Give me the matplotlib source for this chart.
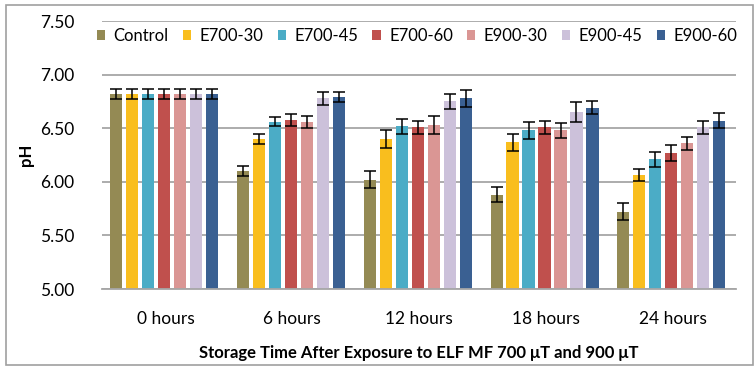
import numpy as np
import matplotlib.pyplot as plt
from matplotlib.patches import Rectangle

plt.rcParams['font.family'] = ['Lato', 'DejaVu Sans']

# data
times = ["0 hours", "6 hours", "12 hours", "18 hours", "24 hours"]
series = ["Control", "E700-30", "E700-45", "E700-60", "E900-30", "E900-45", "E900-60"]
colors = ["#948A54", "#F9BE1E", "#4BACC6", "#C0504D", "#DA9694", "#CCC1DA", "#3A6092"]

control = [6.82, 6.10, 6.02, 5.88, 5.72]
e700_30 = [6.82, 6.40, 6.40, 6.37, 6.06]
e700_45 = [6.82, 6.56, 6.52, 6.48, 6.21]
e700_60 = [6.82, 6.58, 6.51, 6.51, 6.27]
e900_30 = [6.82, 6.56, 6.53, 6.48, 6.36]
e900_45 = [6.82, 6.78, 6.75, 6.65, 6.51]
e900_60 = [6.82, 6.79, 6.78, 6.69, 6.57]

err_control = [0.05, 0.05, 0.08, 0.07, 0.08]
err_e700_30 = [0.05, 0.045, 0.085, 0.08, 0.055]
err_e700_45 = [0.05, 0.04, 0.07, 0.08, 0.07]
err_e700_60 = [0.05, 0.055, 0.06, 0.06, 0.075]
err_e900_30 = [0.05, 0.055, 0.08, 0.07, 0.06]
err_e900_45 = [0.05, 0.06, 0.07, 0.09, 0.06]
err_e900_60 = [0.05, 0.05, 0.08, 0.06, 0.07]

values = [control, e700_30, e700_45, e700_60, e900_30, e900_45, e900_60]
errors = [err_control, err_e700_30, err_e700_45, err_e700_60, err_e900_30, err_e900_45, err_e900_60]

fig = plt.figure(figsize=(7.55, 3.66), dpi=100)
ax = fig.add_axes([102/755, 1 - 289/366, 634/755, 268/366])

x = np.arange(len(times))
pitch = 0.126
width = 0.096
for i, name in enumerate(series):
    pos = x + (i - 3) * pitch - 0.01
    ax.bar(pos, values[i], width, bottom=0, color=colors[i], label=name, zorder=2)
    ax.errorbar(pos, values[i], yerr=errors[i], fmt="none", ecolor="black",
                elinewidth=1.1, capsize=4, capthick=1.1, zorder=3)

ax.set_ylim(5.0, 7.5)
ax.set_xlim(-0.5, 4.5)
ax.set_yticks(np.arange(5.0, 7.51, 0.5))
ax.set_yticklabels(["%.2f" % v for v in np.arange(5.0, 7.51, 0.5)], fontsize=12.5)
ax.set_xticks(x)
ax.set_xticklabels(times, fontsize=12.5)
ax.tick_params(axis="y", length=0, pad=20)
ax.tick_params(axis="x", length=0, pad=16)
ax.grid(axis="y", color="#A6A6A6", linewidth=1.3, zorder=0)
ax.set_axisbelow(True)
for s in ["left", "right", "top"]:
    ax.spines[s].set_visible(False)
ax.spines["bottom"].set_color("#A6A6A6")
ax.spines["bottom"].set_linewidth(1.3)

ax.set_ylabel("pH", fontsize=12, fontweight="bold", labelpad=4)
ax.set_xlabel("Storage Time After Exposure to ELF MF 700 \u03bcT and 900 \u03bcT",
              fontsize=12, fontweight="bold", labelpad=13)

ax.legend(loc="center left", bbox_to_anchor=(97/755, 1 - 36/366), bbox_transform=fig.transFigure,
          ncol=7, frameon=False, fontsize=12, handlelength=0.5, handleheight=0.5,
          handletextpad=0.5, columnspacing=0.85, borderaxespad=0, borderpad=0)

fig.patches.append(Rectangle((6/755, 1/366), 747/755, 360/366, transform=fig.transFigure,
                             fill=False, edgecolor="#A0A0A0", linewidth=1.2))

fig.savefig("out.png", dpi=100)
